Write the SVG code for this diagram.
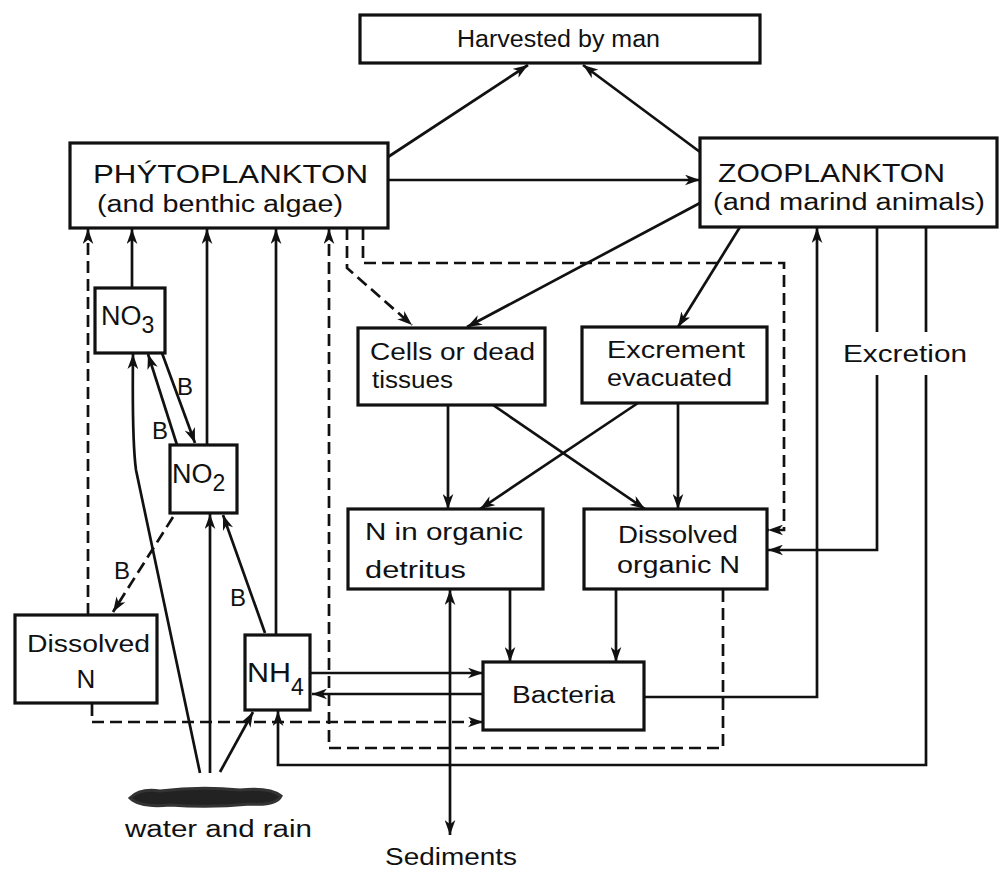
<svg xmlns="http://www.w3.org/2000/svg" width="1001" height="884" viewBox="0 0 1001 884">
<style>
  .box{fill:#fff;stroke:#111;stroke-width:3.2}
  .ln{fill:none;stroke:#111;stroke-width:2.7}
  .ds{fill:none;stroke:#111;stroke-width:2.7;stroke-dasharray:12 6}
  .t{font-family:"Liberation Sans",Arial,sans-serif;fill:#111;font-size:23px}
  .big{font-size:25px}
  .chem{font-size:27px}
  .sub{font-size:23px}
  .lbl{font-family:"Liberation Sans",Arial,sans-serif;fill:#111;font-size:24px}
</style>
<defs>
  <marker id="ah" viewBox="0 0 14 10" refX="14" refY="5" markerWidth="15" markerHeight="11" orient="auto" markerUnits="userSpaceOnUse">
    <path d="M0,0 L14,5 L0,10 L4,5 z" fill="#111"/>
  </marker>
  <marker id="ahs" viewBox="0 0 14 10" refX="14" refY="5" markerWidth="15" markerHeight="11" orient="auto-start-reverse" markerUnits="userSpaceOnUse">
    <path d="M0,0 L14,5 L0,10 L4,5 z" fill="#111"/>
  </marker>
</defs>
<rect width="1001" height="884" fill="#fff"/>

<g id="connectors">
  <line class="ln" x1="388" y1="157" x2="528" y2="65" marker-end="url(#ah)"/>
  <line class="ln" x1="700" y1="152" x2="583" y2="65" marker-end="url(#ah)"/>
  <line class="ln" x1="388" y1="180" x2="700" y2="180" marker-end="url(#ah)"/>
  <line class="ln" x1="700" y1="203" x2="467" y2="327" marker-end="url(#ah)"/>
  <line class="ln" x1="740" y1="227" x2="678" y2="327" marker-end="url(#ah)"/>
  <path class="ds" d="M347 228 L347 268 L412 325" marker-end="url(#ah)"/>
  <path class="ds" d="M363 228 L363 263 L784 263 L784 530 L768 530" marker-end="url(#ah)"/>
  <line class="ln" x1="448" y1="405" x2="448" y2="509" marker-end="url(#ah)"/>
  <line class="ln" x1="493" y1="405" x2="645" y2="509" marker-end="url(#ah)"/>
  <line class="ln" x1="638" y1="403" x2="480" y2="509" marker-end="url(#ah)"/>
  <line class="ln" x1="678" y1="403" x2="678" y2="509" marker-end="url(#ah)"/>
  <line class="ln" x1="510" y1="589" x2="510" y2="662" marker-end="url(#ah)"/>
  <line class="ln" x1="616" y1="589" x2="616" y2="662" marker-end="url(#ah)"/>
  <line class="ln" x1="450" y1="590" x2="450" y2="835" marker-start="url(#ahs)" marker-end="url(#ah)"/>
  <path class="ln" d="M877 227 L877 332"/>
  <path class="ln" d="M877 375 L877 550 L768 550" marker-end="url(#ah)"/>
  <path class="ln" d="M926 227 L926 332"/>
  <path class="ln" d="M926 375 L926 765 L278 765 L278 711" marker-end="url(#ah)"/>
  <path class="ln" d="M644 697 L817 697 L817 228" marker-end="url(#ah)"/>
  <path class="ds" d="M723 590 L723 748 L329 748 L329 229" marker-end="url(#ah)"/>
  <line class="ln" x1="311" y1="673" x2="483" y2="673" marker-end="url(#ah)"/>
  <line class="ln" x1="483" y1="694" x2="312" y2="694" marker-end="url(#ah)"/>
  <path class="ds" d="M92 704 L92 722 L483 722" marker-end="url(#ah)"/>
  <line class="ds" x1="88" y1="615" x2="88" y2="229" marker-end="url(#ah)"/>
  <line class="ln" x1="132" y1="288" x2="132" y2="229" marker-end="url(#ah)"/>
  <line class="ln" x1="207" y1="445" x2="207" y2="229" marker-end="url(#ah)"/>
  <line class="ln" x1="276" y1="635" x2="276" y2="229" marker-end="url(#ah)"/>
  <line class="ln" x1="162" y1="353" x2="195" y2="443" marker-end="url(#ah)"/>
  <line class="ln" x1="177" y1="445" x2="148" y2="354" marker-end="url(#ah)"/>
  <line class="ds" x1="173" y1="517" x2="113" y2="612" marker-end="url(#ah)"/>
  <line class="ln" x1="265" y1="633" x2="223" y2="515" marker-end="url(#ah)"/>
  <path class="ln" d="M200 773 L136 470 Q132 440 133 354" marker-end="url(#ah)"/>
  <line class="ln" x1="210" y1="773" x2="210" y2="514" marker-end="url(#ah)"/>
  <line class="ln" x1="220" y1="772" x2="253" y2="712" marker-end="url(#ah)"/>
  <text class="lbl" x="177" y="395">B</text>
  <text class="lbl" x="152" y="439">B</text>
  <text class="lbl" x="114" y="579">B</text>
  <text class="lbl" x="230" y="606">B</text>
</g>

<g id="harvested">
  <rect class="box" x="360" y="15" width="400" height="48"/>
  <text class="t" x="457" y="47" textLength="203" lengthAdjust="spacingAndGlyphs">Harvested by man</text>
</g>
<g id="phytoplankton">
  <rect class="box" x="70" y="143" width="318" height="85"/>
  <text class="t big" x="93" y="183" textLength="275" lengthAdjust="spacingAndGlyphs">PHÝTOPLANKTON</text>
  <text class="t" x="97" y="212" textLength="246" lengthAdjust="spacingAndGlyphs">(and benthic algae)</text>
</g>
<g id="zooplankton">
  <rect class="box" x="700" y="138" width="297" height="89"/>
  <text class="t big" x="718" y="182" textLength="227" lengthAdjust="spacingAndGlyphs">ZOOPLANKTON</text>
  <text class="t" x="713" y="210" textLength="272" lengthAdjust="spacingAndGlyphs">(and marind animals)</text>
</g>
<g id="cells">
  <rect class="box" x="358" y="328" width="187" height="77"/>
  <text class="t" x="370" y="360" textLength="165" lengthAdjust="spacingAndGlyphs">Cells or dead</text>
  <text class="t" x="372" y="388" textLength="81" lengthAdjust="spacingAndGlyphs">tissues</text>
</g>
<g id="excrement">
  <rect class="box" x="582" y="327" width="185" height="76"/>
  <text class="t" x="607" y="358" textLength="138" lengthAdjust="spacingAndGlyphs">Excrement</text>
  <text class="t" x="607" y="386" textLength="125" lengthAdjust="spacingAndGlyphs">evacuated</text>
</g>
<g id="n-organic">
  <rect class="box" x="348" y="509" width="195" height="80"/>
  <text class="t" x="365" y="540" textLength="158" lengthAdjust="spacingAndGlyphs">N in organic</text>
  <text class="t" x="365" y="578" textLength="101" lengthAdjust="spacingAndGlyphs">detritus</text>
</g>
<g id="dissolved-organic">
  <rect class="box" x="584" y="509" width="183" height="80"/>
  <text class="t" x="618" y="543" textLength="120" lengthAdjust="spacingAndGlyphs">Dissolved</text>
  <text class="t" x="617" y="573" textLength="123" lengthAdjust="spacingAndGlyphs">organic N</text>
</g>
<g id="bacteria">
  <rect class="box" x="483" y="662" width="161" height="68"/>
  <text class="t" x="512" y="703" textLength="103" lengthAdjust="spacingAndGlyphs">Bacteria</text>
</g>
<g id="excretion">
  <text class="t" x="843" y="362" textLength="124" lengthAdjust="spacingAndGlyphs">Excretion</text>
</g>
<g id="no3">
  <rect class="box" x="95" y="288" width="70" height="65"/>
  <text class="t chem" x="101" y="325">NO<tspan class="sub" dy="8">3</tspan></text>
</g>
<g id="no2">
  <rect class="box" x="170" y="445" width="67" height="68"/>
  <text class="t chem" x="172" y="483">NO<tspan class="sub" dy="8">2</tspan></text>
</g>
<g id="dissolved-n">
  <rect class="box" x="15" y="615" width="142" height="88"/>
  <text class="t" x="27" y="652" textLength="123" lengthAdjust="spacingAndGlyphs">Dissolved</text>
  <text class="t" x="86" y="688" style="font-size:26px" text-anchor="middle">N</text>
</g>
<g id="nh4">
  <rect class="box" x="245" y="635" width="65" height="75"/>
  <text class="t chem" x="247" y="682" textLength="44" lengthAdjust="spacingAndGlyphs">NH</text>
  <text class="t sub" x="291" y="695">4</text>
</g>
<g id="water">
  <path d="M130 798 Q140 788 160 791 Q200 786 240 790 Q270 787 281 796 Q276 806 250 804 Q210 808 170 805 Q140 808 130 798 z" fill="#222" stroke="#333" stroke-width="3"/>
  <text class="t" x="125" y="837" textLength="187" lengthAdjust="spacingAndGlyphs">water and rain</text>
</g>
<g id="sediments">
  <text class="t" x="385" y="865" textLength="132" lengthAdjust="spacingAndGlyphs">Sediments</text>
</g>
</svg>
